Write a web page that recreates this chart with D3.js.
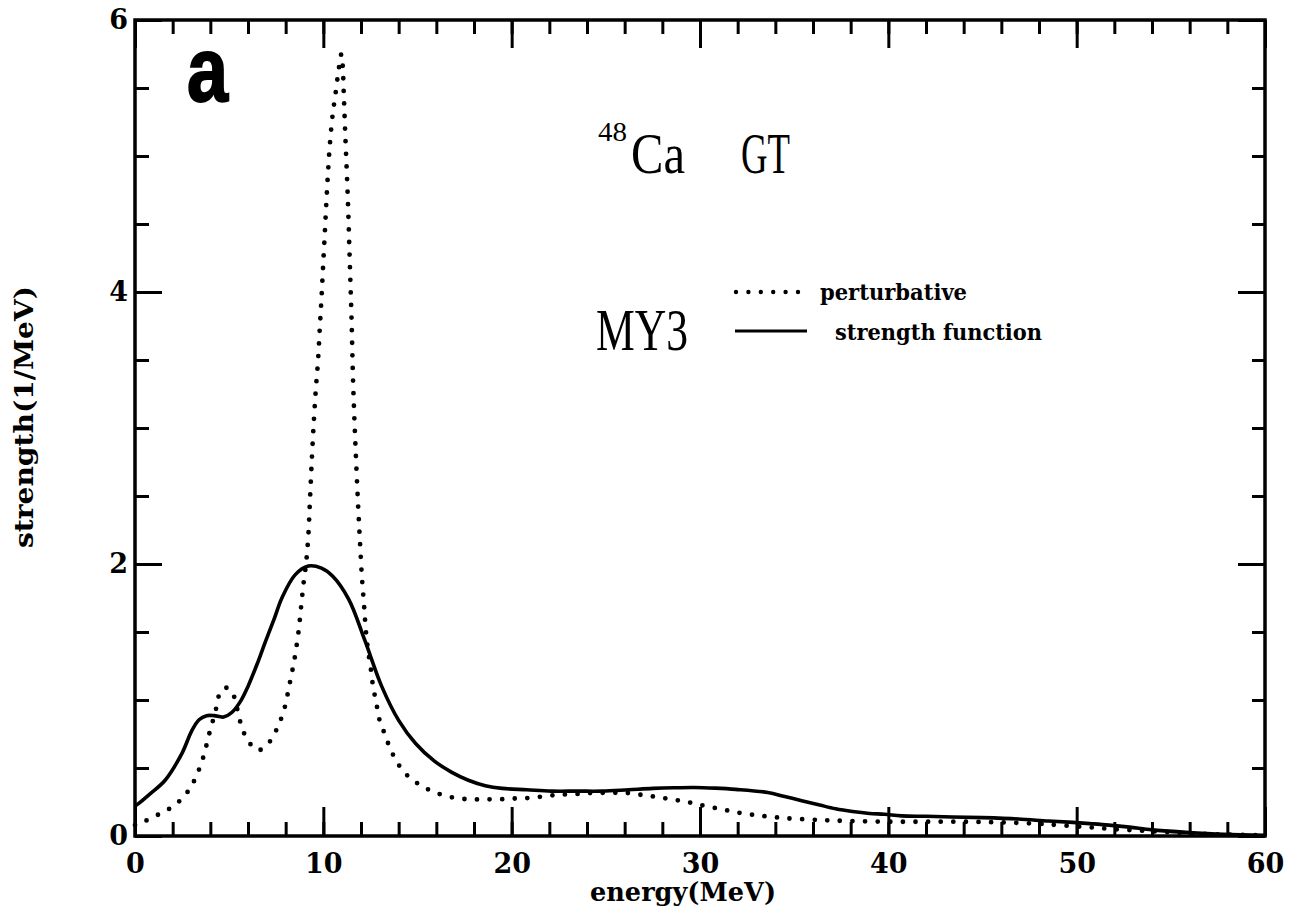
<!DOCTYPE html>
<html>
<head>
<meta charset="utf-8">
<script src="https://cdn.jsdelivr.net/npm/d3@7"></script>
<style>
  body { margin: 0; background: #fff; }
  .tick line { stroke: #000; stroke-width: 3px; }
  .tick text { font-family: "DejaVu Serif", serif; font-weight: bold; font-size: 27px; fill: #000; }
  .domain { display: none; }
</style>
</head>
<body>
<div id="chart"></div>
<script>
// perturbative curve (dotted)
var pertE = [0, 0.46, 1.2, 1.93, 2.6, 3.08, 3.43, 3.7, 3.9, 4.14, 4.35, 4.53, 4.85, 5.15, 5.4, 5.63, 5.96, 6.53, 7.19, 7.6,
  7.9, 8.1, 8.27, 8.43, 8.57, 8.69, 8.78, 8.87, 8.96, 9.08, 9.2, 9.3, 9.4, 9.5, 9.6, 9.72, 9.81, 9.9, 9.98, 10.07,
  10.15, 10.24, 10.35, 10.5, 10.64, 10.8, 10.96, 11.03, 11.08, 11.17, 11.3, 11.4, 11.5, 11.58, 11.7, 11.84, 11.95, 12.05, 12.15, 12.22,
  12.3, 12.4, 12.53, 12.64, 12.81, 12.97, 13.26, 13.56, 13.97, 14.5, 15.2, 15.95, 16.8, 17.7, 18.5, 19.4, 20.2, 21.0, 21.9, 22.7,
  23.6, 24.4, 25.3, 26.1, 27.0, 27.8, 28.7, 29.5, 30.3, 31.2, 32.0, 32.9, 33.7, 34.6, 36.3, 38, 40, 42, 44, 46,
  48, 49, 50.8, 52, 54, 56, 58, 60];
var pertS = [0.08, 0.105, 0.155, 0.21, 0.29, 0.39, 0.50, 0.615, 0.73, 0.85, 0.96, 1.06, 1.09, 1.06, 0.95, 0.82, 0.71, 0.63, 0.70, 0.81,
  0.92, 1.04, 1.16, 1.27, 1.39, 1.51, 1.63, 1.755, 1.87, 2.0, 2.2, 2.5, 2.8, 3.06, 3.28, 3.5, 3.73, 3.95, 4.17, 4.41,
  4.63, 4.86, 5.09, 5.31, 5.45, 5.62, 5.75, 5.66, 5.48, 5.14, 4.69, 4.24, 3.79, 3.34, 2.89, 2.45, 2.15, 1.9, 1.72, 1.58,
  1.45, 1.34, 1.22, 1.10, 0.98, 0.86, 0.75, 0.64, 0.53, 0.44, 0.37, 0.32, 0.285, 0.27, 0.27, 0.27, 0.276, 0.28, 0.295, 0.305,
  0.31, 0.317, 0.317, 0.317, 0.30, 0.285, 0.265, 0.245, 0.22, 0.195, 0.173, 0.154, 0.142, 0.13, 0.118, 0.11, 0.105, 0.105, 0.105, 0.1,
  0.09, 0.08, 0.063, 0.05, 0.035, 0.02, 0.01, 0.005];

// strength function (solid)
var funcE = [0, 0.2, 0.8, 1.6, 2.5, 3.0, 3.4, 3.8, 4.2, 4.7, 5.15, 5.6, 6.0, 6.5, 6.9, 7.4, 7.8, 8.5, 9.2, 9.9, 10.5,
  11.35, 12.2, 13.1, 14.0, 14.9, 15.9, 16.8, 17.7, 18.6, 19.5, 20.8, 22.1, 23.5, 24.8, 26.2, 27.5, 28.6, 29.7, 30.8, 31.9,
  33.6, 34.5, 35.4, 36.3, 37.2, 38.1, 39.0, 39.8, 40.7, 42, 43.4, 45, 46.9, 48.5, 49.8, 50.8, 51.7, 52.8, 54, 55.8, 57.8, 60];
var funcS = [0.22, 0.24, 0.31, 0.41, 0.61, 0.77, 0.855, 0.885, 0.885, 0.875, 0.91, 0.99, 1.10, 1.27, 1.42, 1.6, 1.75, 1.92, 1.985, 1.97, 1.91,
  1.74, 1.44, 1.10, 0.85, 0.68, 0.55, 0.47, 0.41, 0.37, 0.35, 0.34, 0.33, 0.33, 0.33, 0.34, 0.35, 0.355, 0.357, 0.352, 0.343,
  0.32, 0.29, 0.26, 0.23, 0.2, 0.18, 0.166, 0.16, 0.148, 0.145, 0.14, 0.135, 0.125, 0.11, 0.10, 0.09, 0.08, 0.065, 0.045, 0.027, 0.012, 0.005];

var xMajor = d3.range(0, 61, 10);
var xMinor = d3.range(0, 61, 2);
var yMajor = [0, 2, 4, 6];
var yMinor = d3.range(0, 6.01, 0.5);

var legendLabels = ["perturbative", "strength function"];

var margin = { top: 20, right: 31, bottom: 78, left: 135 };
var W = 1296, H = 914;
var width = W - margin.left - margin.right;
var height = H - margin.top - margin.bottom;

var svg = d3.select("#chart").append("svg")
  .attr("width", W)
  .attr("height", H)
  .append("g")
  .attr("transform", "translate(" + margin.left + "," + margin.top + ")");

var x = d3.scaleLinear().domain([0, 60]).range([0, width]);
var y = d3.scaleLinear().domain([0, 6]).range([height, 0]);

// ticks, all pointing inward
svg.append("g").attr("transform", "translate(0," + height + ")")
  .call(d3.axisBottom(x).tickValues(xMinor).tickSizeInner(-14).tickSizeOuter(0).tickFormat(""));
svg.append("g").attr("transform", "translate(0," + height + ")")
  .call(d3.axisBottom(x).tickValues(xMajor).tickSizeInner(-29).tickSizeOuter(0).tickPadding(18).tickFormat(d3.format("d")));
svg.append("g")
  .call(d3.axisTop(x).tickValues(xMinor).tickSizeInner(-14).tickSizeOuter(0).tickFormat(""));
svg.append("g")
  .call(d3.axisTop(x).tickValues(xMajor).tickSizeInner(-28).tickSizeOuter(0).tickFormat(""));

svg.append("g")
  .call(d3.axisLeft(y).tickValues(yMinor).tickSizeInner(-14).tickSizeOuter(0).tickFormat(""));
svg.append("g")
  .call(d3.axisLeft(y).tickValues(yMajor).tickSizeInner(-27).tickSizeOuter(0).tickPadding(7).tickFormat(d3.format("d")));
svg.append("g").attr("transform", "translate(" + width + ",0)")
  .call(d3.axisRight(y).tickValues(yMinor).tickSizeInner(-13).tickSizeOuter(0).tickFormat(""));
svg.append("g").attr("transform", "translate(" + width + ",0)")
  .call(d3.axisRight(y).tickValues(yMajor).tickSizeInner(-27).tickSizeOuter(0).tickFormat(""));

// frame
svg.append("rect")
  .attr("width", width)
  .attr("height", height)
  .attr("fill", "none")
  .attr("stroke", "#000")
  .attr("stroke-width", 3.5);

var line = d3.line()
  .x(function (d) { return x(d[0]); })
  .y(function (d) { return y(d[1]); })
  .curve(d3.curveCatmullRom.alpha(0.5));

svg.append("path")
  .datum(d3.zip(pertE, pertS))
  .attr("d", line)
  .attr("fill", "none")
  .attr("stroke", "#000")
  .attr("stroke-width", 4.8)
  .attr("stroke-linecap", "round")
  .attr("stroke-dasharray", "0,12.6");

svg.append("path")
  .datum(d3.zip(funcE, funcS))
  .attr("d", line)
  .attr("fill", "none")
  .attr("stroke", "#000")
  .attr("stroke-width", 3.6);

// axis titles
svg.append("text")
  .attr("x", 548)
  .attr("y", 881)
  .attr("text-anchor", "middle")
  .attr("font-family", "DejaVu Serif, serif")
  .attr("font-weight", "bold")
  .attr("font-size", 26)
  .attr("textLength", 186)
  .attr("lengthAdjust", "spacingAndGlyphs")
  .text("energy(MeV)");

svg.append("text")
  .attr("transform", "translate(-102,397) rotate(-90)")
  .attr("text-anchor", "middle")
  .attr("font-family", "DejaVu Serif, serif")
  .attr("font-weight", "bold")
  .attr("font-size", 26)
  .attr("textLength", 262)
  .attr("lengthAdjust", "spacingAndGlyphs")
  .text("strength(1/MeV)");

// panel letter
svg.append("text")
  .attr("x", 52)
  .attr("y", 81)
  .attr("font-family", "Liberation Sans, Arial, sans-serif")
  .attr("font-weight", "900")
  .attr("font-size", 90)
  .attr("textLength", 41)
  .attr("lengthAdjust", "spacingAndGlyphs")
  .attr("stroke", "#000")
  .attr("stroke-width", 2)
  .text("a");

// annotations
var ann = svg.append("g").attr("font-family", "Liberation Serif, serif").attr("fill", "#000");
ann.append("text").attr("x", 463).attr("y", 121).attr("font-size", 27)
  .attr("textLength", 29).attr("lengthAdjust", "spacingAndGlyphs").text("48");
ann.append("text").attr("x", 496).attr("y", 153).attr("font-size", 58)
  .attr("textLength", 54).attr("lengthAdjust", "spacingAndGlyphs").text("Ca");
ann.append("text").attr("x", 606).attr("y", 153).attr("font-size", 58)
  .attr("textLength", 49).attr("lengthAdjust", "spacingAndGlyphs").text("GT");
ann.append("text").attr("x", 461).attr("y", 330).attr("font-size", 60)
  .attr("textLength", 92).attr("lengthAdjust", "spacingAndGlyphs").text("MY3");

// legend
var leg = svg.append("g");
leg.append("line")
  .attr("x1", 601).attr("x2", 665).attr("y1", 272).attr("y2", 272)
  .attr("stroke", "#000").attr("stroke-width", 4.4)
  .attr("stroke-linecap", "round").attr("stroke-dasharray", "0,12.4");
leg.append("line")
  .attr("x1", 600).attr("x2", 672).attr("y1", 311).attr("y2", 311)
  .attr("stroke", "#000").attr("stroke-width", 3);
leg.selectAll("text.lab")
  .data(legendLabels)
  .enter()
  .append("text")
  .attr("class", "lab")
  .attr("x", function (d, i) { return i === 0 ? 685 : 700; })
  .attr("y", function (d, i) { return i === 0 ? 280 : 320; })
  .attr("font-family", "DejaVu Serif, serif")
  .attr("font-weight", "bold")
  .attr("font-size", 23)
  .attr("textLength", function (d, i) { return i === 0 ? 147 : 207; })
  .attr("lengthAdjust", "spacingAndGlyphs")
  .text(function (d) { return d; });
</script>
</body>
</html>
